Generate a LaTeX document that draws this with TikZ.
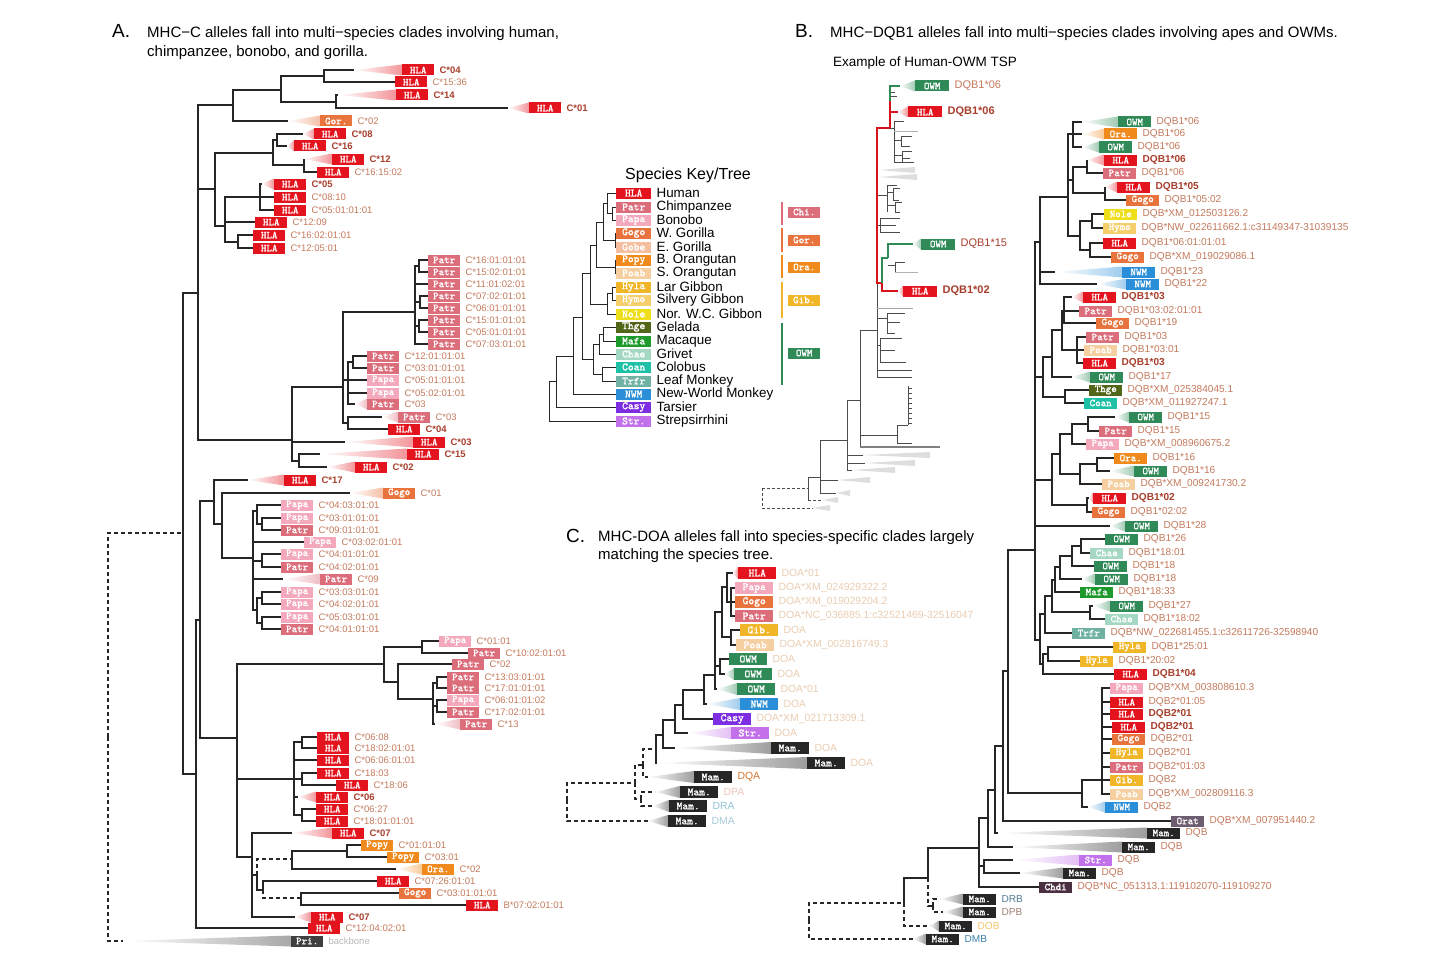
\documentclass[tikz,border=0pt]{standalone}
\usepackage{fontspec}
\setmainfont{Liberation Sans}
\newfontfamily\tagfont{lmmono10-regular.otf}[FakeBold=1.6]
\usetikzlibrary{positioning}

\definecolor{chla}{HTML}{E3141E}
\definecolor{cpatr}{HTML}{DC6E7C}
\definecolor{cpapa}{HTML}{F3A9BB}
\definecolor{cgogo}{HTML}{E8733D}
\definecolor{cgobe}{HTML}{F5BE9E}
\definecolor{cpopy}{HTML}{F08A1C}
\definecolor{cpoab}{HTML}{F6CFA0}
\definecolor{chyla}{HTML}{F1B628}
\definecolor{chymo}{HTML}{F4CF6C}
\definecolor{cnole}{HTML}{EFDF1A}
\definecolor{cthge}{HTML}{52661A}
\definecolor{cmafa}{HTML}{1E9A2C}
\definecolor{cchae}{HTML}{A5D8C2}
\definecolor{ccoan}{HTML}{1DC1A5}
\definecolor{ctrfr}{HTML}{6FB2A4}
\definecolor{cnwm}{HTML}{2A8FD8}
\definecolor{ccasy}{HTML}{7D2DE2}
\definecolor{cstr}{HTML}{C271EA}
\definecolor{cowm}{HTML}{2F8A58}
\definecolor{cmam}{HTML}{262626}
\definecolor{cpri}{HTML}{3F3F3F}
\definecolor{corat}{HTML}{6D5D70}
\definecolor{cchdi}{HTML}{4A2F40}
\definecolor{labc}{HTML}{C47A5C}
\definecolor{labd}{HTML}{A83E2C}
\definecolor{cbb}{HTML}{B8B8B8}
\definecolor{cdoa}{HTML}{EACDB2}
\definecolor{cdqa}{HTML}{D2742E}
\definecolor{cdpa}{HTML}{EEC3BA}
\definecolor{cdra}{HTML}{8DC3D6}
\definecolor{cdma}{HTML}{A9CADA}
\definecolor{cdrb}{HTML}{4F7A93}
\definecolor{cdpb}{HTML}{9E8073}
\definecolor{cdob}{HTML}{F2C86A}
\definecolor{cdmb}{HTML}{3C82AE}
\definecolor{hlred}{HTML}{D7141C}

\tikzset{
  tag/.style={rectangle, inner sep=0pt, minimum width=32pt, minimum height=11pt,
    text=white, anchor=west, font=\tagfont\fontsize{10.5}{10.5}\selectfont},
  lab/.style={inner sep=0pt, text=labc, font=\fontsize{9.5}{10}\selectfont},
  br/.style={line width=1.1pt, black!85},
  dsh/.style={br, dash pattern=on 4pt off 3pt},
  hlr/.style={line width=1.6pt, hlred},
  hlg/.style={line width=1.6pt, cowm},
  tw/.style={line width=0.6pt, black!70},
  fw/.style={fill=black!13},
  title/.style={inner sep=0pt, anchor=north west, align=left, font=\fontsize{15}{19}\selectfont},
  letter/.style={inner sep=0pt, anchor=base west, font=\fontsize{19}{19}\selectfont},
}

% tip: name, x, y, colour, tag, label
\newcommand{\leaf}[6]{%
  \node[tag,fill=#4] (#1) at (#2,#3) {#5};
  \node[lab,right=5pt of #1] (#1l) {#6};
  \coordinate (#1e) at (#1.west);}
% collapsed tip: name, wedge x, x, y, colour, tag, label
\newcommand{\wleaf}[7]{%
  \shade[left color=white,right color=#5!45] (#2,#4) -- (#3,{#4-\wh}) -- (#3,{#4+\wh}) -- cycle;
  \node[tag,fill=#5] (#1) at (#3,#4) {#6};
  \node[lab,right=5pt of #1] (#1l) {#7};
  \coordinate (#1e) at (#2,#4);}
\newcommand{\wh}{5.5}
\newcommand{\hb}[1]{\textcolor{labd}{\bfseries #1}}

\begin{document}
\begin{tikzpicture}[x=1pt,y=-1pt]
\useasboundingbox (0,0) rectangle (1456,971);
\fill[white] (0,0) rectangle (1456,971);

%%% A
\node[letter] (la) at (112,38) {A.};
\node[title] (ta) at (147,26) {MHC−C alleles fall into multi−species clades involving human,\\chimpanzee, bonobo, and gorilla.};

\wleaf{a1}{354}{402}{70}{chla}{HLA}{\hb{C*04}}
\leaf{a2}{395}{82}{chla}{HLA}{C*15:36}
\wleaf{a3}{338}{396}{95}{chla}{HLA}{\hb{C*14}}
\wleaf{a4}{508}{529}{108}{chla}{HLA}{\hb{C*01}}
\wleaf{a5}{288}{320}{121}{cgogo}{Gor.}{C*02}
\wleaf{a6}{303}{314}{134}{chla}{HLA}{\hb{C*08}}
\wleaf{a7}{287}{294}{146}{chla}{HLA}{\hb{C*16}}
\wleaf{a8}{304}{332}{159}{chla}{HLA}{\hb{C*12}}
\leaf{a9}{317}{172}{chla}{HLA}{C*16:15:02}
\wleaf{a10}{262}{274}{184}{chla}{HLA}{\hb{C*05}}
\leaf{a11}{274}{197}{chla}{HLA}{C*08:10}
\leaf{a12}{274}{210}{chla}{HLA}{C*05:01:01:01}
\leaf{a13}{255}{222}{chla}{HLA}{C*12:09}
\leaf{a14}{253}{235}{chla}{HLA}{C*16:02:01:01}
\leaf{a15}{253}{248}{chla}{HLA}{C*12:05:01}
\leaf{a16}{428}{260}{cpatr}{Patr}{C*16:01:01:01}
\leaf{a17}{428}{272}{cpatr}{Patr}{C*15:02:01:01}
\leaf{a18}{428}{284}{cpatr}{Patr}{C*11:01:02:01}
\leaf{a19}{428}{296}{cpatr}{Patr}{C*07:02:01:01}
\leaf{a20}{428}{308}{cpatr}{Patr}{C*06:01:01:01}
\leaf{a21}{428}{320}{cpatr}{Patr}{C*15:01:01:01}
\leaf{a22}{428}{332}{cpatr}{Patr}{C*05:01:01:01}
\leaf{a23}{428}{344}{cpatr}{Patr}{C*07:03:01:01}
\leaf{a24}{367}{356}{cpatr}{Patr}{C*12:01:01:01}
\leaf{a25}{367}{368}{cpatr}{Patr}{C*03:01:01:01}
\leaf{a26}{367}{380}{cpapa}{Papa}{C*05:01:01:01}
\leaf{a27}{367}{393}{cpapa}{Papa}{C*05:02:01:01}
\wleaf{a28}{355}{367}{404}{cpatr}{Patr}{C*03}
\wleaf{a29}{382}{398}{417}{cpatr}{Patr}{C*03}
\leaf{a30}{388}{429}{chla}{HLA}{\hb{C*04}}
\wleaf{a31}{345}{413}{442}{chla}{HLA}{\hb{C*03}}
\wleaf{a32}{320}{407}{454}{chla}{HLA}{\hb{C*15}}
\wleaf{a33}{327}{355}{467}{chla}{HLA}{\hb{C*02}}
\wleaf{a34}{248}{284}{480}{chla}{HLA}{\hb{C*17}}
\wleaf{a35}{350}{383}{493}{cgogo}{Gogo}{C*01}
\leaf{a36}{281}{505}{cpapa}{Papa}{C*04:03:01:01}
\leaf{a37}{281}{518}{cpapa}{Papa}{C*03:01:01:01}
\leaf{a38}{281}{530}{cpatr}{Patr}{C*09:01:01:01}
\leaf{a39}{304}{542}{cpapa}{Papa}{C*03:02:01:01}
\leaf{a40}{281}{554}{cpapa}{Papa}{C*04:01:01:01}
\leaf{a41}{281}{567}{cpatr}{Patr}{C*04:02:01:01}
\wleaf{a42}{283}{320}{579}{cpatr}{Patr}{C*09}
\leaf{a43}{281}{592}{cpapa}{Papa}{C*03:03:01:01}
\leaf{a44}{281}{604}{cpapa}{Papa}{C*04:02:01:01}
\leaf{a45}{281}{617}{cpapa}{Papa}{C*05:03:01:01}
\leaf{a46}{281}{629}{cpatr}{Patr}{C*04:01:01:01}
\leaf{a47}{439}{641}{cpapa}{Papa}{C*01:01}
\leaf{a48}{468}{653}{cpatr}{Patr}{C*10:02:01:01}
\leaf{a49}{452}{664}{cpatr}{Patr}{C*02}
\leaf{a50}{447}{677}{cpatr}{Patr}{C*13:03:01:01}
\leaf{a51}{447}{688}{cpatr}{Patr}{C*17:01:01:01}
\leaf{a52}{447}{700}{cpapa}{Papa}{C*06:01:01:02}
\leaf{a53}{447}{712}{cpatr}{Patr}{C*17:02:01:01}
\wleaf{a54}{435}{460}{724}{cpatr}{Patr}{C*13}
\leaf{a55}{317}{737}{chla}{HLA}{C*06:08}
\leaf{a56}{317}{748}{chla}{HLA}{C*18:02:01:01}
\leaf{a57}{317}{760}{chla}{HLA}{C*06:06:01:01}
\leaf{a58}{317}{773}{chla}{HLA}{C*18:03}
\leaf{a59}{336}{785}{chla}{HLA}{C*18:06}
\wleaf{a60}{298}{316}{797}{chla}{HLA}{\hb{C*06}}
\leaf{a61}{316}{809}{chla}{HLA}{C*06:27}
\leaf{a62}{316}{821}{chla}{HLA}{C*18:01:01:01}
\wleaf{a63}{292}{332}{833}{chla}{HLA}{\hb{C*07}}
\leaf{a64}{361}{845}{cpopy}{Popy}{C*01:01:01}
\leaf{a65}{387}{857}{cpopy}{Popy}{C*03:01}
\wleaf{a66}{396}{422}{869}{cpopy}{Ora.}{C*02}
\leaf{a67}{377}{881}{chla}{HLA}{C*07:26:01:01}
\leaf{a68}{399}{893}{cgogo}{Gogo}{C*03:01:01:01}
\leaf{a69}{466}{905}{chla}{HLA}{B*07:02:01:01}
\wleaf{a70}{295}{311}{917}{chla}{HLA}{\hb{C*07}}
\leaf{a71}{308}{928}{chla}{HLA}{C*12:04:02:01}
\wleaf{a72}{123}{291}{941}{cpri}{Pri.}{\textcolor{cbb}{backbone}}

\coordinate (ra) at (108,737);
\coordinate (ir) at (183,533);
\coordinate (ia0) at (198,293);
\coordinate (ia1) at (233,105);
\coordinate (ia2) at (281,90);
\coordinate (ia3) at (324,76);
\coordinate (ia4) at (336,102);
\coordinate (ia5) at (215,189);
\coordinate (ia6) at (273,153);
\coordinate (ia7) at (277,140);
\coordinate (ia8) at (304,165);
\coordinate (ia9) at (225,226);
\coordinate (ia10) at (260,197);
\coordinate (ia11) at (238,242);
\coordinate (ia12) at (292,440);
\coordinate (ia13) at (343,387);
\coordinate (ia14) at (299,461);
\coordinate (ia15) at (415,312);
\coordinate (ia16) at (348,380);
\coordinate (ia17) at (348,423);
\coordinate (ia18) at (419,266);
\coordinate (ia19) at (420,302);
\coordinate (ia20) at (419,326);
\coordinate (ia21) at (353,362);
\coordinate (ib0) at (196,774);
\coordinate (ib1) at (200,620);
\coordinate (ib2) at (214,501);
\coordinate (ib3) at (237,738);
\coordinate (ib4) at (222,524);
\coordinate (ib5) at (253,558);
\coordinate (ib6) at (257,511);
\coordinate (ib7) at (262,524);
\coordinate (ib8) at (262,561);
\coordinate (ib9) at (257,610);
\coordinate (ib10) at (262,598);
\coordinate (ib11) at (262,623);
\coordinate (ib12) at (384,664);
\coordinate (ib13) at (294,779);
\coordinate (ib14) at (252,857);
\coordinate (ib15) at (422,647);
\coordinate (ib16) at (398,682);
\coordinate (ib17) at (433,699);
\coordinate (ib18) at (437,683);
\coordinate (ib19) at (437,706);
\coordinate (ib20) at (302,742);
\coordinate (ib21) at (302,779);
\coordinate (ib22) at (302,815);
\coordinate (ib23) at (257,875);
\coordinate (ib24) at (292,859);
\coordinate (ib25) at (263,890);
\coordinate (ib26) at (347,851);
\coordinate (ib27) at (301,898);

\draw[dsh] (ra) |- (ir);
\draw[dsh] (ra) |- (a72e);
\foreach \ch in {ia0,ib0} \draw[br] (ir) |- (\ch);
\foreach \ch in {ia1,ia5,ia12} \draw[br] (ia0) |- (\ch);
\foreach \ch in {ia2,a5e} \draw[br] (ia1) |- (\ch);
\foreach \ch in {ia3,ia4} \draw[br] (ia2) |- (\ch);
\foreach \ch in {a1e,a2e} \draw[br] (ia3) |- (\ch);
\foreach \ch in {a3e,a4e} \draw[br] (ia4) |- (\ch);
\foreach \ch in {ia6,ia9} \draw[br] (ia5) |- (\ch);
\foreach \ch in {ia7,ia8} \draw[br] (ia6) |- (\ch);
\foreach \ch in {a6e,a7e} \draw[br] (ia7) |- (\ch);
\foreach \ch in {a8e,a9e} \draw[br] (ia8) |- (\ch);
\foreach \ch in {ia10,a13e,ia11} \draw[br] (ia9) |- (\ch);
\foreach \ch in {a10e,a11e,a12e} \draw[br] (ia10) |- (\ch);
\foreach \ch in {a14e,a15e} \draw[br] (ia11) |- (\ch);
\foreach \ch in {ia13,a31e,ia14} \draw[br] (ia12) |- (\ch);
\foreach \ch in {a32e,a33e} \draw[br] (ia14) |- (\ch);
\foreach \ch in {ia15,ia16,ia17} \draw[br] (ia13) |- (\ch);
\foreach \ch in {ia18,a18e,ia19,ia20,a23e} \draw[br] (ia15) |- (\ch);
\foreach \ch in {a16e,a17e} \draw[br] (ia18) |- (\ch);
\foreach \ch in {a19e,a20e} \draw[br] (ia19) |- (\ch);
\foreach \ch in {a21e,a22e} \draw[br] (ia20) |- (\ch);
\foreach \ch in {ia21,a26e,a27e,a28e} \draw[br] (ia16) |- (\ch);
\foreach \ch in {a24e,a25e} \draw[br] (ia21) |- (\ch);
\foreach \ch in {a29e,a30e} \draw[br] (ia17) |- (\ch);
\foreach \ch in {ib1,a71e} \draw[br] (ib0) |- (\ch);
\foreach \ch in {ib2,ib3} \draw[br] (ib1) |- (\ch);
\foreach \ch in {a34e,ib4} \draw[br] (ib2) |- (\ch);
\foreach \ch in {a35e,ib5} \draw[br] (ib4) |- (\ch);
\foreach \ch in {ib6,a39e,ib8,a42e,ib9} \draw[br] (ib5) |- (\ch);
\foreach \ch in {a36e,ib7} \draw[br] (ib6) |- (\ch);
\foreach \ch in {a37e,a38e} \draw[br] (ib7) |- (\ch);
\foreach \ch in {a40e,a41e} \draw[br] (ib8) |- (\ch);
\foreach \ch in {ib10,ib11} \draw[br] (ib9) |- (\ch);
\foreach \ch in {a43e,a44e} \draw[br] (ib10) |- (\ch);
\foreach \ch in {a45e,a46e} \draw[br] (ib11) |- (\ch);
\foreach \ch in {ib12,ib13,ib14} \draw[br] (ib3) |- (\ch);
\foreach \ch in {ib15,ib16} \draw[br] (ib12) |- (\ch);
\foreach \ch in {a47e,a48e} \draw[br] (ib15) |- (\ch);
\foreach \ch in {a49e,ib17} \draw[br] (ib16) |- (\ch);
\foreach \ch in {ib18,ib19,a54e} \draw[br] (ib17) |- (\ch);
\foreach \ch in {a50e,a51e} \draw[br] (ib18) |- (\ch);
\foreach \ch in {a52e,a53e} \draw[br] (ib19) |- (\ch);
\foreach \ch in {ib20,a57e,ib21,a60e,ib22} \draw[br] (ib13) |- (\ch);
\foreach \ch in {a55e,a56e} \draw[br] (ib20) |- (\ch);
\foreach \ch in {a58e,a59e} \draw[br] (ib21) |- (\ch);
\foreach \ch in {a61e,a62e} \draw[br] (ib22) |- (\ch);
\foreach \ch in {a63e,ib23,a70e} \draw[br] (ib14) |- (\ch);
\draw[dsh] (ib23) |- (ib24);
\draw[br] (ib23) |- (ib25);
\foreach \ch in {ib26,a66e} \draw[br] (ib24) |- (\ch);
\foreach \ch in {a64e,a65e} \draw[br] (ib26) |- (\ch);
\draw[br] (ib25) |- (a67e);
\draw[dsh] (ib25) |- (ib27);
\foreach \ch in {a68e,a69e} \draw[br] (ib27) |- (\ch);

%%% species key
\node[inner sep=0pt, anchor=base west, font=\fontsize{16}{16}\selectfont] (kt) at (625,179) {Species Key/Tree};
\begin{scope}[tag/.append style={minimum width=35pt, font=\tagfont\fontsize{11}{11}\selectfont},
  lab/.append style={text=black, font=\fontsize{13.4}{14}\selectfont}]
\leaf{k1}{616}{193}{chla}{HLA}{Human}
\leaf{k2}{616}{207}{cpatr}{Patr}{Chimpanzee}
\leaf{k3}{616}{220}{cpapa}{Papa}{Bonobo}
\leaf{k4}{616}{233}{cgogo}{Gogo}{W. Gorilla}
\leaf{k5}{616}{247}{cgobe}{Gobe}{E. Gorilla}
\leaf{k6}{616}{260}{cpopy}{Popy}{B. Orangutan}
\leaf{k7}{616}{273}{cpoab}{Poab}{S. Orangutan}
\leaf{k8}{616}{287}{chyla}{Hyla}{Lar Gibbon}
\leaf{k9}{616}{300}{chymo}{Hymo}{Silvery Gibbon}
\leaf{k10}{616}{314}{cnole}{Nole}{Nor. W.C. Gibbon}
\leaf{k11}{616}{327}{cthge}{Thge}{Gelada}
\leaf{k12}{616}{341}{cmafa}{Mafa}{Macaque}
\leaf{k13}{616}{354}{cchae}{Chae}{Grivet}
\leaf{k14}{616}{367}{ccoan}{Coan}{Colobus}
\leaf{k15}{616}{381}{ctrfr}{Trfr}{Leaf Monkey}
\leaf{k16}{616}{394}{cnwm}{NWM}{New-World Monkey}
\leaf{k17}{616}{407}{ccasy}{Casy}{Tarsier}
\leaf{k18}{616}{421}{cstr}{Str.}{Strepsirrhini}
\end{scope}
\coordinate (ik1) at (612,213);
\coordinate (ik2) at (607,203);
\coordinate (ik3) at (615,240);
\coordinate (ik4) at (603,222);
\coordinate (ik5) at (615,267);
\coordinate (ik6) at (596,245);
\coordinate (ik7) at (612,293);
\coordinate (ik8) at (607,304);
\coordinate (ik9) at (590,273);
\coordinate (ik10) at (603,334);
\coordinate (ik11) at (599,344);
\coordinate (ik12) at (602,374);
\coordinate (ik13) at (593,359);
\coordinate (ik14) at (582,317);
\coordinate (ik15) at (573,356);
\coordinate (ik16) at (556,381);
\coordinate (ik17) at (549,400);
\begin{scope}[br/.append style={line width=1pt}]
\foreach \ch in {k2e,k3e} \draw[br] (ik1) |- (\ch);
\foreach \ch in {k1e,ik1} \draw[br] (ik2) |- (\ch);
\foreach \ch in {k4e,k5e} \draw[br] (ik3) |- (\ch);
\foreach \ch in {ik2,ik3} \draw[br] (ik4) |- (\ch);
\foreach \ch in {k6e,k7e} \draw[br] (ik5) |- (\ch);
\foreach \ch in {ik4,ik5} \draw[br] (ik6) |- (\ch);
\foreach \ch in {k8e,k9e} \draw[br] (ik7) |- (\ch);
\foreach \ch in {ik7,k10e} \draw[br] (ik8) |- (\ch);
\foreach \ch in {ik6,ik8} \draw[br] (ik9) |- (\ch);
\foreach \ch in {k11e,k12e} \draw[br] (ik10) |- (\ch);
\foreach \ch in {ik10,k13e} \draw[br] (ik11) |- (\ch);
\foreach \ch in {k14e,k15e} \draw[br] (ik12) |- (\ch);
\foreach \ch in {ik11,ik12} \draw[br] (ik13) |- (\ch);
\foreach \ch in {ik9,ik13} \draw[br] (ik14) |- (\ch);
\foreach \ch in {ik14,k16e} \draw[br] (ik15) |- (\ch);
\foreach \ch in {ik15,k17e} \draw[br] (ik16) |- (\ch);
\foreach \ch in {ik16,k18e} \draw[br] (ik17) |- (\ch);
\end{scope}
% clade bars
\draw[line width=2pt, cpatr] (782,202) -- (782,225);
\draw[line width=2pt, cgogo] (782,228) -- (782,252);
\draw[line width=2pt, cpopy] (782,255) -- (782,278);
\draw[line width=2pt, chyla] (782,282) -- (782,318);
\draw[line width=2pt, cowm] (782,323) -- (782,385);
\node[tag,fill=cpatr] (g1) at (788,212) {Chi.};
\node[tag,fill=cgogo] (g2) at (788,240) {Gor.};
\node[tag,fill=cpopy] (g3) at (788,267) {Ora.};
\node[tag,fill=chyla] (g4) at (788,300) {Gib.};
\node[tag,fill=cowm] (g5) at (788,353) {OWM};

%%% B
\node[letter] (lb) at (795,38) {B.};
\node[title] (tb) at (830,26) {MHC−DQB1 alleles fall into multi−species clades involving apes and OWMs.};
\node[inner sep=0pt, anchor=base west, font=\fontsize{13.5}{14}\selectfont] (tex) at (833,67) {Example of Human-OWM TSP};

% thumbnail tree
\begin{scope}[tag/.append style={minimum width=34pt}, lab/.append style={font=\fontsize{11}{11}\selectfont}]
\wleaf{t1}{900}{915}{86}{cowm}{OWM}{DQB1*06}
\wleaf{t2}{898}{908}{112}{chla}{HLA}{\hb{DQB1*06}}
\wleaf{t3}{913}{921}{244}{cowm}{OWM}{\textcolor{labd}{DQB1*15}}
\wleaf{t4}{898}{903}{291}{chla}{HLA}{\hb{DQB1*02}}
\end{scope}
% twigs
\draw[tw] (890,96) -- (897,96) (890,92) -- (895,92);
\draw[tw] (890,128) -- (894,128) (894,121) -- (894,162)
  (894,121) -- (904,121) (894,140) -- (901,140) (901,136) -- (901,146)
  (901,136) -- (912,136) (901,146) -- (910,146) (894,155) -- (902,155)
  (902,151) -- (902,162) (902,151) -- (912,151) (902,158) -- (910,158)
  (894,162) -- (914,162);
\draw[tw, black!30] (894,131) -- (918,131);
\fill[fw] (879,170) -- (915,167) -- (915,173) -- cycle;
\fill[fw] (879,177) -- (917,174) -- (917,180) -- cycle;
\draw[tw] (877,195) -- (887,195) (887,185) -- (887,212) (887,185) -- (897,185)
  (887,192) -- (893,192) (893,188) -- (893,200) (893,188) -- (900,188) (893,200) -- (899,200)
  (887,205) -- (895,205) (895,202) -- (895,212) (895,202) -- (902,202) (895,212) -- (900,212)
  (877,225) -- (880,225) (880,218) -- (880,232) (880,218) -- (900,218)
  (880,225) -- (896,225) (880,232) -- (900,232);
\draw[tw] (888,265) -- (895,265) (895,262) -- (895,272) (895,262) -- (905,262);
\draw[tw, black!30] (895,272) -- (918,272);
\draw[tw, line width=0.8pt] (877,283) -- (877,377);
\draw[tw, black!35] (877,308) -- (913,308);
\draw[tw] (877,318) -- (887,318) (887,313) -- (887,333) (887,313) -- (905,313)
  (887,322) -- (900,322) (887,333) -- (895,333)
  (877,345) -- (880,345) (880,338) -- (880,362) (880,338) -- (902,338)
  (880,350) -- (895,350) (880,362) -- (906,362)
  (877,370) -- (912,370) (877,377) -- (912,377);
\draw[tw] (860,330) -- (877,330) (860,330) -- (860,447);
\draw[tw] (860,435) -- (897,435) (897,425) -- (897,443) (897,425) -- (908,425)
  (897,443) -- (912,443) (908,386) -- (908,425);
\foreach \k in {0,...,7} \draw[tw] (908,{388+5*\k}) -- (912,{388+5*\k});
\draw[line width=1.2pt, black!50] (860,447) -- (940,447);
\draw[tw] (847,400) -- (860,400) (847,400) -- (847,470)
  (847,455) -- (863,455) (847,463) -- (865,463) (847,470) -- (852,470);
\fill[fw] (863,455) -- (930,452) -- (930,458) -- cycle;
\fill[fw] (865,463) -- (915,460) -- (915,466) -- cycle;
\fill[fw] (852,470) -- (895,467) -- (895,473) -- cycle;
\draw[tw] (820,440) -- (847,440) (820,440) -- (820,493)
  (820,480) -- (838,480) (820,493) -- (836,493) (808,477) -- (820,477) (808,477) -- (808,500);
\fill[fw] (838,480) -- (870,477) -- (870,483) -- cycle;
\fill[fw] (836,493) -- (850,490) -- (850,496) -- cycle;
\draw[tw, dash pattern=on 3pt off 2pt] (808,500) -- (823,500)
  (762,488) -- (808,488) (762,508) -- (813,508) (762,488) -- (762,508);
\fill[fw] (823,500) -- (838,497) -- (838,503) -- cycle;
\fill[fw] (813,508) -- (830,505) -- (830,511) -- cycle;
% highlighted lineages
\coordinate (tn1) at (877,205);
\coordinate (tn2) at (890,128);
\coordinate (tn2b) at (890,101);
\coordinate (tn3) at (882,283);
\coordinate (tn4) at (888,258);
\draw[hlr] (tn1) |- (tn2);
\draw[hlr] (tn1) |- (tn3);
\draw[hlr] (tn2) -- (tn2b);
\draw[hlr] (tn2) |- (t2e);
\draw[hlg] (tn2b) |- (t1e);
\draw[hlr] (tn3) |- (t4e);
\draw[hlg] (tn3) |- (tn4);
\draw[hlg] (tn4) |- (t3e);

% DQB tree
\begin{scope}[tag/.append style={minimum width=33pt}, lab/.append style={font=\fontsize{10.1}{10}\selectfont}]
\wleaf{b1}{1082}{1118}{122}{cowm}{OWM}{DQB1*06}
\wleaf{b2}{1082}{1104}{134}{cpopy}{Ora.}{DQB1*06}
\wleaf{b3}{1082}{1099}{147}{cowm}{OWM}{DQB1*06}
\wleaf{b4}{1087}{1104}{160}{chla}{HLA}{\hb{DQB1*06}}
\leaf{b5}{1103}{173}{cpatr}{Patr}{DQB1*06}
\wleaf{b6}{1105}{1117}{187}{chla}{HLA}{\hb{DQB1*05}}
\leaf{b7}{1126}{200}{cgogo}{Gogo}{DQB1*05:02}
\leaf{b8}{1104}{214}{cnole}{Nole}{DQB*XM\_012503126.2}
\leaf{b9}{1103}{228}{chymo}{Hymo}{DQB*NW\_022611662.1:c31149347-31039135}
\leaf{b10}{1103}{243}{chla}{HLA}{DQB1*06:01:01:01}
\leaf{b11}{1111}{257}{cgogo}{Gogo}{DQB*XM\_019029086.1}
\wleaf{b12}{1055}{1122}{272}{cnwm}{NWM}{DQB1*23}
\wleaf{b13}{1097}{1126}{284}{cnwm}{NWM}{DQB1*22}
\wleaf{b14}{1072}{1083}{297}{chla}{HLA}{\hb{DQB1*03}}
\leaf{b15}{1079}{311}{cpatr}{Patr}{DQB1*03:02:01:01}
\leaf{b16}{1096}{323}{cgogo}{Gogo}{DQB1*19}
\leaf{b17}{1086}{337}{cpatr}{Patr}{DQB1*03}
\leaf{b18}{1084}{350}{cpoab}{Poab}{DQB1*03:01}
\leaf{b19}{1083}{363}{chla}{HLA}{\hb{DQB1*03}}
\wleaf{b20}{1072}{1090}{377}{cowm}{OWM}{DQB1*17}
\leaf{b21}{1089}{390}{cthge}{Thge}{DQB*XM\_025384045.1}
\leaf{b22}{1084}{403}{ccoan}{Coan}{DQB*XM\_011927247.1}
\wleaf{b23}{1115}{1129}{417}{cowm}{OWM}{DQB1*15}
\leaf{b24}{1099}{431}{cpatr}{Patr}{DQB1*15}
\leaf{b25}{1086}{444}{cpapa}{Papa}{DQB*XM\_008960675.2}
\leaf{b26}{1114}{458}{cpopy}{Ora.}{DQB1*16}
\wleaf{b27}{1110}{1134}{471}{cowm}{OWM}{DQB1*16}
\leaf{b28}{1102}{484}{cpoab}{Poab}{DQB*XM\_009241730.2}
\wleaf{b29}{1089}{1093}{498}{chla}{HLA}{\hb{DQB1*02}}
\leaf{b30}{1092}{512}{cgogo}{Gogo}{DQB1*02:02}
\wleaf{b31}{1110}{1125}{526}{cowm}{OWM}{DQB1*28}
\leaf{b32}{1105}{539}{cowm}{OWM}{DQB1*26}
\leaf{b33}{1090}{553}{cchae}{Chae}{DQB1*18:01}
\leaf{b34}{1094}{566}{cowm}{OWM}{DQB1*18}
\wleaf{b35}{1082}{1095}{579}{cowm}{OWM}{DQB1*18}
\leaf{b36}{1080}{592}{cmafa}{Mafa}{DQB1*18:33}
\wleaf{b37}{1093}{1110}{606}{cowm}{OWM}{DQB1*27}
\leaf{b38}{1105}{619}{cchae}{Chae}{DQB1*18:02}
\leaf{b39}{1072}{633}{ctrfr}{Trfr}{DQB*NW\_022681455.1:c32611726-32598940}
\leaf{b40}{1113}{647}{chyla}{Hyla}{DQB1*25:01}
\leaf{b41}{1080}{661}{chyla}{Hyla}{DQB1*20:02}
\leaf{b42}{1114}{674}{chla}{HLA}{\hb{DQB1*04}}
\leaf{b43}{1110}{688}{cpapa}{Papa}{DQB*XM\_003808610.3}
\leaf{b44}{1110}{702}{chla}{HLA}{DQB2*01:05}
\leaf{b45}{1110}{714}{chla}{HLA}{\hb{DQB2*01}}
\leaf{b46}{1112}{727}{chla}{HLA}{\hb{DQB2*01}}
\leaf{b47}{1112}{739}{cgogo}{Gogo}{DQB2*01}
\leaf{b48}{1110}{753}{chyla}{Hyla}{DQB2*01}
\leaf{b49}{1110}{767}{cpatr}{Patr}{DQB2*01:03}
\leaf{b50}{1110}{780}{chyla}{Gib.}{DQB2}
\leaf{b51}{1110}{794}{cpoab}{Poab}{DQB*XM\_002809116.3}
\wleaf{b52}{1088}{1105}{807}{cnwm}{NWM}{DQB2}
\leaf{b53}{1171}{821}{corat}{Orat}{DQB*XM\_007951440.2}
\wleaf{b54}{998}{1147}{833}{cmam}{Mam.}{DQB}
\wleaf{b55}{1013}{1122}{847}{cmam}{Mam.}{DQB}
\wleaf{b56}{1013}{1079}{860}{cstr}{Str.}{DQB}
\wleaf{b57}{1020}{1063}{873}{cmam}{Mam.}{DQB}
\leaf{b58}{1039}{887}{cchdi}{Chdi}{DQB*NC\_051313.1:119102070-119109270}
\wleaf{b59}{940}{963}{899}{cmam}{Mam.}{\textcolor{cdrb}{DRB}}
\wleaf{b60}{943}{963}{912}{cmam}{Mam.}{\textcolor{cdpb}{DPB}}
\wleaf{b61}{930}{939}{926}{cmam}{Mam.}{\textcolor{cdob}{DOB}}
\wleaf{b62}{913}{926}{939}{cmam}{Mam.}{\textcolor{cdmb}{DMB}}
\end{scope}

\coordinate (jb1) at (1073,134);
\coordinate (jb2) at (1087,167);
\coordinate (jb3) at (1105,193);
\coordinate (jb4) at (1073,180);
\coordinate (jb5) at (1092,221);
\coordinate (jb6) at (1090,250);
\coordinate (jb7) at (1080,236);
\coordinate (jb8) at (1068,197);
\coordinate (jb9) at (1040,242);
\coordinate (jb10) at (1064,311);
\coordinate (jb11) at (1077,350);
\coordinate (jb12) at (1062,330);
\coordinate (jb13) at (1052,357);
\coordinate (jb14) at (1065,397);
\coordinate (jb15) at (1043,377);
\coordinate (jb16) at (1088,424);
\coordinate (jb17) at (1072,434);
\coordinate (jb18) at (1097,464);
\coordinate (jb19) at (1080,474);
\coordinate (jb20) at (1060,454);
\coordinate (jb21) at (1087,505);
\coordinate (jb22) at (1052,480);
\coordinate (jb23) at (1081,546);
\coordinate (jb24) at (1072,556);
\coordinate (jb25) at (1060,567);
\coordinate (jb26) at (1055,580);
\coordinate (jb27) at (1090,612);
\coordinate (jb28) at (1052,596);
\coordinate (jb29) at (1045,614);
\coordinate (jb30) at (1048,654);
\coordinate (jb31) at (1043,664);
\coordinate (jb32) at (1040,640);
\coordinate (jb33) at (1035,550);
\coordinate (jb34) at (1102,780);
\coordinate (jb35) at (1082,793);
\coordinate (jb36) at (1008,671);
\coordinate (jb37) at (1003,746);
\coordinate (jb38) at (995,790);
\coordinate (jb39) at (988,818);
\coordinate (jb40) at (984,866);
\coordinate (jb41) at (979,848);
\coordinate (jb42) at (928,878);
\coordinate (jb43) at (933,906);
\coordinate (jb44) at (904,903);
\coordinate (jb45) at (809,920);

\foreach \ch in {b1e,b2e,b3e} \draw[br] (jb1) |- (\ch);
\foreach \ch in {b4e,b5e} \draw[br] (jb2) |- (\ch);
\foreach \ch in {b6e,b7e} \draw[br] (jb3) |- (\ch);
\foreach \ch in {jb2,jb3} \draw[br] (jb4) |- (\ch);
\foreach \ch in {b8e,b9e} \draw[br] (jb5) |- (\ch);
\foreach \ch in {b10e,b11e} \draw[br] (jb6) |- (\ch);
\foreach \ch in {jb5,jb6} \draw[br] (jb7) |- (\ch);
\foreach \ch in {jb1,jb4,jb7} \draw[br] (jb8) |- (\ch);
\foreach \ch in {jb8,b12e,b13e} \draw[br] (jb9) |- (\ch);
\foreach \ch in {b14e,b15e,b16e} \draw[br] (jb10) |- (\ch);
\foreach \ch in {b17e,b18e,b19e} \draw[br] (jb11) |- (\ch);
\foreach \ch in {jb10,jb11} \draw[br] (jb12) |- (\ch);
\foreach \ch in {jb12,b20e} \draw[br] (jb13) |- (\ch);
\foreach \ch in {b21e,b22e} \draw[br] (jb14) |- (\ch);
\foreach \ch in {jb13,jb14} \draw[br] (jb15) |- (\ch);
\foreach \ch in {b23e,b24e} \draw[br] (jb16) |- (\ch);
\foreach \ch in {jb16,b25e} \draw[br] (jb17) |- (\ch);
\foreach \ch in {b26e,b27e} \draw[br] (jb18) |- (\ch);
\foreach \ch in {jb18,b28e} \draw[br] (jb19) |- (\ch);
\foreach \ch in {jb17,jb19} \draw[br] (jb20) |- (\ch);
\foreach \ch in {b29e,b30e} \draw[br] (jb21) |- (\ch);
\foreach \ch in {jb20,jb21} \draw[br] (jb22) |- (\ch);
\foreach \ch in {b32e,b33e} \draw[br] (jb23) |- (\ch);
\foreach \ch in {jb23,b34e} \draw[br] (jb24) |- (\ch);
\foreach \ch in {jb24,b35e} \draw[br] (jb25) |- (\ch);
\foreach \ch in {jb25,b36e} \draw[br] (jb26) |- (\ch);
\foreach \ch in {b37e,b38e} \draw[br] (jb27) |- (\ch);
\foreach \ch in {jb26,jb27} \draw[br] (jb28) |- (\ch);
\foreach \ch in {jb28,b39e} \draw[br] (jb29) |- (\ch);
\foreach \ch in {b40e,b41e} \draw[br] (jb30) |- (\ch);
\foreach \ch in {jb30,b42e} \draw[br] (jb31) |- (\ch);
\foreach \ch in {jb29,jb31} \draw[br] (jb32) |- (\ch);
\foreach \ch in {jb9,jb15,jb22,b31e,jb32} \draw[br] (jb33) |- (\ch);
\foreach \ch in {b43e,b44e,b45e,b46e,b47e,b48e,b49e,b50e,b51e} \draw[br] (jb34) |- (\ch);
\foreach \ch in {jb34,b52e} \draw[br] (jb35) |- (\ch);
\foreach \ch in {jb33,jb35} \draw[br] (jb36) |- (\ch);
\foreach \ch in {jb36,b53e} \draw[br] (jb37) |- (\ch);
\foreach \ch in {jb37,b54e} \draw[br] (jb38) |- (\ch);
\foreach \ch in {jb38,b55e} \draw[br] (jb39) |- (\ch);
\foreach \ch in {b56e,b57e} \draw[br] (jb40) |- (\ch);
\foreach \ch in {jb39,jb40,b58e} \draw[br] (jb41) |- (\ch);
\draw[br] (jb42) |- (jb41);
\draw[dsh] (jb42) |- (jb43);
\foreach \ch in {b59e,b60e} \draw[dsh] (jb43) |- (\ch);
\draw[br] (jb44) |- (jb42);
\draw[dsh] (jb44) |- (b61e);
\foreach \ch in {jb44,b62e} \draw[dsh] (jb45) |- (\ch);

%%% C
\node[letter] (lc) at (566,542) {C.};
\node[title, font=\fontsize{15}{18}\selectfont] (tc) at (598,530) {MHC-DOA alleles fall into species-specific clades largely\\matching the species tree.};
\begin{scope}[tag/.append style={minimum width=38pt, minimum height=12pt, font=\tagfont\fontsize{11}{11}\selectfont},
  lab/.append style={text=cdoa, font=\fontsize{10.4}{10}\selectfont}]
\renewcommand{\wh}{6}
\wleaf{c1}{733}{738}{573}{chla}{HLA}{DOA*01}
\leaf{c2}{735}{588}{cpapa}{Papa}{DOA*XM\_024929322.2}
\leaf{c3}{735}{602}{cgogo}{Gogo}{DOA*XM\_019029204.2}
\leaf{c4}{735}{616}{cpatr}{Patr}{DOA*NC\_036885.1:c32521469-32516047}
\leaf{c5}{740}{630}{chyla}{Gib.}{DOA}
\leaf{c6}{736}{645}{cpoab}{Poab}{DOA*XM\_002816749.3}
\leaf{c7}{729}{659}{cowm}{OWM}{DOA}
\wleaf{c8}{725}{734}{674}{cowm}{OWM}{DOA}
\wleaf{c9}{717}{737}{689}{cowm}{OWM}{DOA*01}
\wleaf{c10}{707}{740}{704}{cnwm}{NWM}{DOA}
\leaf{c11}{713}{719}{ccasy}{Casy}{DOA*XM\_021713309.1}
\wleaf{c12}{688}{731}{733}{cstr}{Str.}{DOA}
\wleaf{c13}{675}{771}{748}{cmam}{Mam.}{DOA}
\wleaf{c14}{657}{807}{763}{cmam}{Mam.}{DOA}
\wleaf{c15}{648}{694}{777}{cmam}{Mam.}{\textcolor{cdqa}{DQA}}
\wleaf{c16}{655}{680}{792}{cmam}{Mam.}{\textcolor{cdpa}{DPA}}
\wleaf{c17}{653}{669}{806}{cmam}{Mam.}{\textcolor{cdra}{DRA}}
\wleaf{c18}{648}{668}{821}{cmam}{Mam.}{\textcolor{cdma}{DMA}}
\end{scope}
\coordinate (jc1) at (731,602);
\coordinate (jc2) at (727,587);
\coordinate (jc3) at (731,637);
\coordinate (jc4) at (722,612);
\coordinate (jc5) at (720,666);
\coordinate (jc6) at (715,675);
\coordinate (jc7) at (704,690);
\coordinate (jc8) at (683,705);
\coordinate (jc9) at (675,720);
\coordinate (jc10) at (663,735);
\coordinate (jc11) at (656,749);
\coordinate (jc12) at (643,765);
\coordinate (jc13) at (641,799);
\coordinate (jc14) at (635,783);
\coordinate (jc15) at (567,800);
\foreach \ch in {c2e,c3e,c4e} \draw[br] (jc1) |- (\ch);
\foreach \ch in {c1e,jc1} \draw[br] (jc2) |- (\ch);
\foreach \ch in {c5e,c6e} \draw[br] (jc3) |- (\ch);
\foreach \ch in {jc2,jc3} \draw[br] (jc4) |- (\ch);
\foreach \ch in {c7e,c8e} \draw[br] (jc5) |- (\ch);
\foreach \ch in {jc4,jc5,c9e} \draw[br] (jc6) |- (\ch);
\foreach \ch in {jc6,c10e} \draw[br] (jc7) |- (\ch);
\foreach \ch in {jc7,c11e} \draw[br] (jc8) |- (\ch);
\foreach \ch in {jc8,c12e} \draw[br] (jc9) |- (\ch);
\foreach \ch in {jc9,c13e} \draw[br] (jc10) |- (\ch);
\foreach \ch in {jc10,c14e} \draw[br] (jc11) |- (\ch);
\foreach \ch in {jc11,c15e} \draw[dsh] (jc12) |- (\ch);
\foreach \ch in {c16e,c17e} \draw[dsh] (jc13) |- (\ch);
\foreach \ch in {jc12,jc13} \draw[dsh] (jc14) |- (\ch);
\foreach \ch in {jc14,c18e} \draw[dsh] (jc15) |- (\ch);
\end{tikzpicture}
\end{document}
